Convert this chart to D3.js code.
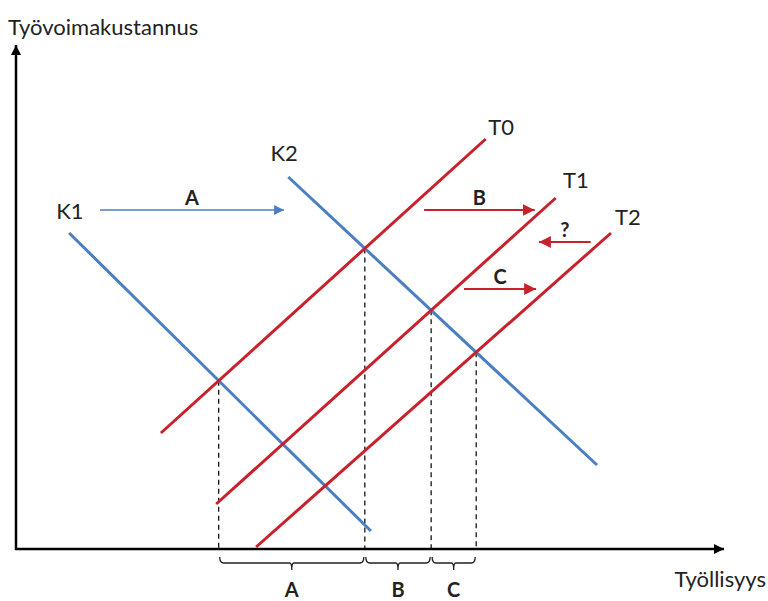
<!DOCTYPE html>
<html>
<head>
  <meta charset="utf-8">
  <title>Työvoimakustannus</title>
  <script src="https://d3js.org/d3.v7.min.js"></script>
  <style>
    body { margin: 0; background: #fff; }
    text { font-family: Lato, "Open Sans", sans-serif; fill: #222; }
  </style>
</head>
<body>
  <div id="container"></div>
  <script>
    // demand curves (K) and supply curves (T), in chart units (0..100)
    var demandNames = ['K1', 'K2'];
    var demandStart = [[7.6, 63.2], [38.9, 74.4]];
    var demandEnd = [[50.7, 3.6], [83.0, 16.8]];

    var supplyNames = ['T0', 'T1', 'T2'];
    var supplyStart = [[20.7, 23.2], [28.6, 9.0], [34.3, 0.4]];
    var supplyEnd = [[67.1, 82.0], [77.1, 70.2], [85.0, 63.2]];

    // curve labels: position in chart units
    var labelPos = [[7.7, 66.0], [38.3, 77.6], [69.3, 82.8], [80.0, 72.2], [87.4, 64.8]];

    // shift arrows: [x from, x to, y], label
    var shiftArrows = [[12.0, 38.3, 67.8], [58.3, 74.1, 67.8], [82.1, 74.7, 61.4], [64.0, 74.3, 52.0]];
    var shiftLabels = ['A', 'B', '?', 'C'];
    var shiftColours = ['#4a7fc1', '#c8212b', '#c8212b', '#c8212b'];

    // which curves cross at each dashed line: [demand index, supply index]
    var crossings = [[0, 0], [1, 0], [1, 1], [1, 2]];
    var braceLabels = ['A', 'B', 'C'];

    var width = 768, height = 601;
    var blue = '#4a7fc1', red = '#c8212b';

    var svg = d3.select('#container').append('svg')
      .attr('width', width)
      .attr('height', height);

    var x = d3.scaleLinear().domain([0, 100]).range([16, 716]);
    var y = d3.scaleLinear().domain([0, 100]).range([549, 49]);

    var defs = svg.append('defs');
    function marker(id, colour, w, h) {
      defs.append('marker')
        .attr('id', id)
        .attr('viewBox', '0 0 10 10')
        .attr('refX', 10).attr('refY', 5)
        .attr('markerUnits', 'userSpaceOnUse')
        .attr('markerWidth', w).attr('markerHeight', h)
        .attr('orient', 'auto')
        .append('path')
          .attr('d', 'M0,0 L10,5 L0,10 Z')
          .attr('fill', colour);
    }
    marker('axisHead', '#000', 11, 10);
    marker('blueHead', blue, 10, 11);
    marker('redHead', red, 12, 13);

    function intersect(a1, a2, b1, b2) {
      var p = [x(a1[0]), y(a1[1])], r = [x(a2[0]) - p[0], y(a2[1]) - p[1]];
      var q = [x(b1[0]), y(b1[1])], s = [x(b2[0]) - q[0], y(b2[1]) - q[1]];
      var den = r[0] * s[1] - r[1] * s[0];
      var t = ((q[0] - p[0]) * s[1] - (q[1] - p[1]) * s[0]) / den;
      return [p[0] + t * r[0], p[1] + t * r[1]];
    }

    var points = crossings.map(c => intersect(demandStart[c[0]], demandEnd[c[0]], supplyStart[c[1]], supplyEnd[c[1]]));

    // dashed lines down to the axis
    svg.selectAll('.drop')
      .data(points)
      .enter()
      .append('line')
        .attr('x1', d => d[0]).attr('x2', d => d[0])
        .attr('y1', d => d[1]).attr('y2', y(0))
        .attr('stroke', '#000')
        .attr('stroke-width', 1.2)
        .attr('stroke-dasharray', '5,4');

    // braces under the axis
    var braceTop = y(0) + 8, braceBottom = y(0) + 14;
    for (var i = 0; i < points.length - 1; i++) {
      var x0 = points[i][0] + 1, x1 = points[i + 1][0] - 1, xm = (x0 + x1) / 2;
      svg.append('path')
        .attr('d', `M ${x0} ${braceTop} Q ${x0} ${braceBottom} ${x0 + 4} ${braceBottom} L ${xm - 2} ${braceBottom} Q ${xm} ${braceBottom} ${xm} ${braceBottom + 7} Q ${xm} ${braceBottom} ${xm + 2} ${braceBottom} L ${x1 - 4} ${braceBottom} Q ${x1} ${braceBottom} ${x1} ${braceTop}`)
        .attr('fill', 'none')
        .attr('stroke', '#222')
        .attr('stroke-width', 1.3);
      svg.append('text')
        .attr('x', xm)
        .attr('y', y(0) + 48)
        .attr('text-anchor', 'middle')
        .style('font-size', '20px')
        .style('font-weight', 'bold')
        .text(braceLabels[i]);
    }

    // demand curves
    svg.selectAll('.demand')
      .data(demandNames)
      .enter()
      .append('line')
        .attr('x1', (d, i) => x(demandStart[i][0])).attr('y1', (d, i) => y(demandStart[i][1]))
        .attr('x2', (d, i) => x(demandEnd[i][0])).attr('y2', (d, i) => y(demandEnd[i][1]))
        .attr('stroke', blue)
        .attr('stroke-width', 3);

    // supply curves
    svg.selectAll('.supply')
      .data(supplyNames)
      .enter()
      .append('line')
        .attr('x1', (d, i) => x(supplyStart[i][0])).attr('y1', (d, i) => y(supplyStart[i][1]))
        .attr('x2', (d, i) => x(supplyEnd[i][0])).attr('y2', (d, i) => y(supplyEnd[i][1]))
        .attr('stroke', red)
        .attr('stroke-width', 3);

    // curve labels
    svg.selectAll('.curveLabel')
      .data(demandNames.concat(supplyNames))
      .enter()
      .append('text')
        .attr('x', (d, i) => x(labelPos[i][0]))
        .attr('y', (d, i) => y(labelPos[i][1]))
        .attr('text-anchor', 'middle')
        .style('font-size', '22px')
        .text(d => d);

    // shift arrows
    shiftArrows.forEach(function (a, i) {
      svg.append('line')
        .attr('x1', x(a[0])).attr('x2', x(a[1]))
        .attr('y1', y(a[2])).attr('y2', y(a[2]))
        .attr('stroke', shiftColours[i])
        .attr('stroke-width', i === 0 ? 1.5 : 2)
        .attr('marker-end', i === 0 ? 'url(#blueHead)' : 'url(#redHead)');
      svg.append('text')
        .attr('x', (x(a[0]) + x(a[1])) / 2)
        .attr('y', y(a[2]) - 5)
        .attr('text-anchor', 'middle')
        .style('font-size', '20px')
        .style('font-weight', 'bold')
        .text(shiftLabels[i]);
    });

    // axes
    svg.append('line')
      .attr('x1', x(0)).attr('y1', y(0) + 1)
      .attr('x2', x(0)).attr('y2', 45)
      .attr('stroke', '#000').attr('stroke-width', 2.5)
      .attr('marker-end', 'url(#axisHead)');
    svg.append('line')
      .attr('x1', x(0) - 1).attr('y1', y(0))
      .attr('x2', 724).attr('y2', y(0))
      .attr('stroke', '#000').attr('stroke-width', 2.5)
      .attr('marker-end', 'url(#axisHead)');

    svg.append('text')
      .attr('x', 8).attr('y', 35)
      .style('font-size', '22px')
      .text('Työvoimakustannus');
    svg.append('text')
      .attr('x', 766).attr('y', 587)
      .attr('text-anchor', 'end')
      .style('font-size', '22px')
      .text('Työllisyys');
  </script>
</body>
</html>
